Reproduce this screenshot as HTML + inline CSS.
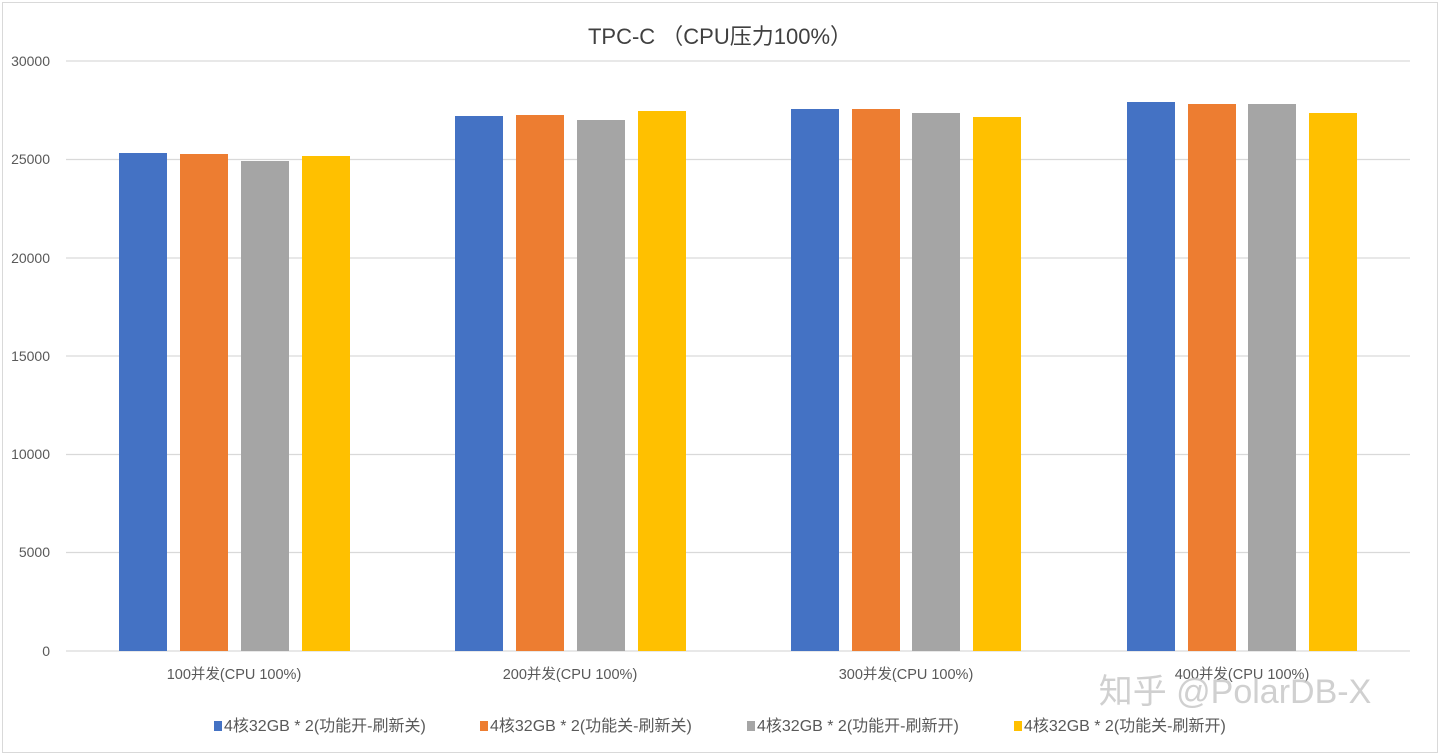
<!DOCTYPE html>
<html><head><meta charset="utf-8"><style>
html,body{margin:0;padding:0;background:#fff;}
svg{display:block;font-family:"Liberation Sans","Noto Sans CJK SC",sans-serif;}
</style></head><body>
<svg width="1440" height="756" viewBox="0 0 1440 756">
<rect x="2.5" y="2.5" width="1435" height="750" fill="#fff" stroke="#d9d9d9"/>
<text x="720" y="44" font-size="22" text-anchor="middle" fill="#404040">TPC-C  （CPU压力100%）</text>
<g stroke="#d9d9d9" stroke-width="1.3">
<line x1="66" x2="1410" y1="61" y2="61"/><line x1="66" x2="1410" y1="159.5" y2="159.5"/>
<line x1="66" x2="1410" y1="258" y2="258"/><line x1="66" x2="1410" y1="356" y2="356"/>
<line x1="66" x2="1410" y1="454.5" y2="454.5"/><line x1="66" x2="1410" y1="552.5" y2="552.5"/>
<line x1="66" x2="1410" y1="651" y2="651"/></g>
<g font-size="14" fill="#595959" text-anchor="end">
<text x="50" y="66">30000</text><text x="50" y="164">25000</text><text x="50" y="263">20000</text>
<text x="50" y="361">15000</text><text x="50" y="459">10000</text><text x="50" y="557">5000</text><text x="50" y="656">0</text></g>
<g>
<rect x="119" y="153" width="48" height="498" fill="#4472c4"/><rect x="180" y="154" width="48" height="497" fill="#ed7d31"/>
<rect x="241" y="161" width="48" height="490" fill="#a5a5a5"/><rect x="302" y="156" width="48" height="495" fill="#ffc000"/>
<rect x="455" y="116" width="48" height="535" fill="#4472c4"/><rect x="516" y="115" width="48" height="536" fill="#ed7d31"/>
<rect x="577" y="120" width="48" height="531" fill="#a5a5a5"/><rect x="638" y="111" width="48" height="540" fill="#ffc000"/>
<rect x="791" y="109" width="48" height="542" fill="#4472c4"/><rect x="852" y="109" width="48" height="542" fill="#ed7d31"/>
<rect x="912" y="113" width="48" height="538" fill="#a5a5a5"/><rect x="973" y="117" width="48" height="534" fill="#ffc000"/>
<rect x="1127" y="102" width="48" height="549" fill="#4472c4"/><rect x="1188" y="104" width="48" height="547" fill="#ed7d31"/>
<rect x="1248" y="104" width="48" height="547" fill="#a5a5a5"/><rect x="1309" y="113" width="48" height="538" fill="#ffc000"/>
</g>
<g font-size="14.5" fill="#595959" text-anchor="middle">
<text x="234" y="679">100并发(CPU 100%)</text><text x="570" y="679">200并发(CPU 100%)</text>
<text x="906" y="679">300并发(CPU 100%)</text><text x="1242" y="679">400并发(CPU 100%)</text></g>
<text x="1235" y="703" font-size="34" fill="#c8c8c8" text-anchor="middle" opacity="0.85">知乎 @PolarDB-X</text>
<g font-size="16" fill="#595959">
<rect x="214" y="721" width="8" height="10" fill="#4472c4"/><text x="224" y="731">4核32GB * 2(功能开-刷新关)</text>
<rect x="480" y="721" width="8" height="10" fill="#ed7d31"/><text x="490" y="731">4核32GB * 2(功能关-刷新关)</text>
<rect x="747" y="721" width="8" height="10" fill="#a5a5a5"/><text x="757" y="731">4核32GB * 2(功能开-刷新开)</text>
<rect x="1014" y="721" width="8" height="10" fill="#ffc000"/><text x="1024" y="731">4核32GB * 2(功能关-刷新开)</text>
</g>
</svg>
</body></html>
